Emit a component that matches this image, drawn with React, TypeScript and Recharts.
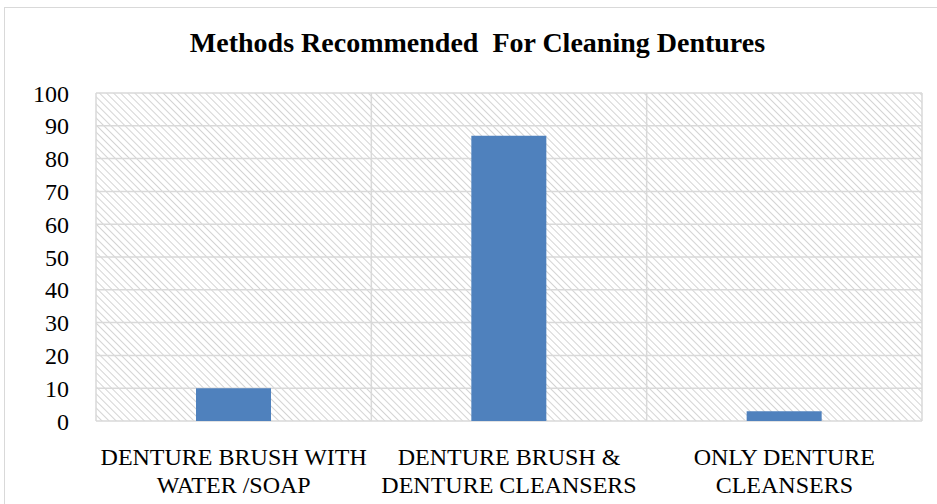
import { BarChart, Bar, XAxis, YAxis, CartesianGrid } from "recharts";

const categories = [
  "DENTURE BRUSH WITH|WATER /SOAP",
  "DENTURE BRUSH &|DENTURE CLEANSERS",
  "ONLY DENTURE|CLEANSERS",
];
const percentages = [10, 87, 3];
const yTicks = [0, 10, 20, 30, 40, 50, 60, 70, 80, 90, 100];

const data = categories.map((name, i) => ({ name, value: percentages[i] }));

const FONT = "'Liberation Serif', 'Times New Roman', serif";

function CategoryTick(props: any) {
  const { x, y, payload } = props;
  const lines = String(payload.value).split("|");
  return (
    <text x={x} y={y} textAnchor="middle" fontFamily={FONT} fontSize={24} fill="#000">
      {lines.map((line, i) => (
        <tspan key={i} x={x} dy={i === 0 ? 42 : 28}>
          {line}
        </tspan>
      ))}
    </text>
  );
}

export default function App() {
  return (
    <div style={{ position: "absolute", left: 0, top: 0, width: 937, height: 504, overflow: "hidden", background: "#fff" }}>
      {/* hatch pattern for plot background */}
      <svg width={0} height={0} style={{ position: "absolute" }}>
        <defs>
          <pattern id="hatch" width={5} height={5} patternUnits="userSpaceOnUse" patternTransform="rotate(45)">
            <rect width={5} height={5} fill="#fff" />
            <line x1={0} y1={0} x2={5} y2={0} stroke="#d4d4d4" strokeWidth={2} />
          </pattern>
        </defs>
      </svg>

      {/* outer frame */}
      <div style={{ position: "absolute", left: 4, top: 7, width: 960, height: 520, border: "1.5px solid #d9d9d9" }} />

      <div
        style={{
          position: "absolute",
          left: 0,
          top: 27,
          width: 955,
          textAlign: "center",
          fontFamily: FONT,
          fontWeight: "bold",
          fontSize: 28,
          lineHeight: "32px",
          color: "#000",
          whiteSpace: "pre",
        }}
      >
        {"Methods Recommended  For Cleaning Dentures"}
      </div>

      <div style={{ position: "absolute", left: 0, top: 0 }}>
        <BarChart width={937} height={504} data={data} margin={{ top: 93, right: 15, bottom: 0, left: 0 }}>
          <CartesianGrid
            fill="url(#hatch)"
            fillOpacity={1}
            stroke="#d9d9d9"
            strokeWidth={1.5}
            verticalCoordinatesGenerator={({ offset }: any) =>
              [0, 1, 2, 3].map((i) => offset.left + (offset.width * i) / 3)
            }
          />
          <YAxis
            width={96}
            domain={[0, 100]}
            ticks={yTicks}
            interval={0}
            axisLine={false}
            tickLine={false}
            tickSize={0}
            tickMargin={27}
            tick={{ fontFamily: FONT, fontSize: 24, fill: "#000" }}
          />
          <XAxis
            dataKey="name"
            height={83}
            axisLine={false}
            tickLine={false}
            tickSize={0}
            tick={<CategoryTick />}
            interval={0}
          />
          <Bar dataKey="value" fill="#4f81bd" barSize={75} isAnimationActive={false} />
        </BarChart>
      </div>
    </div>
  );
}
